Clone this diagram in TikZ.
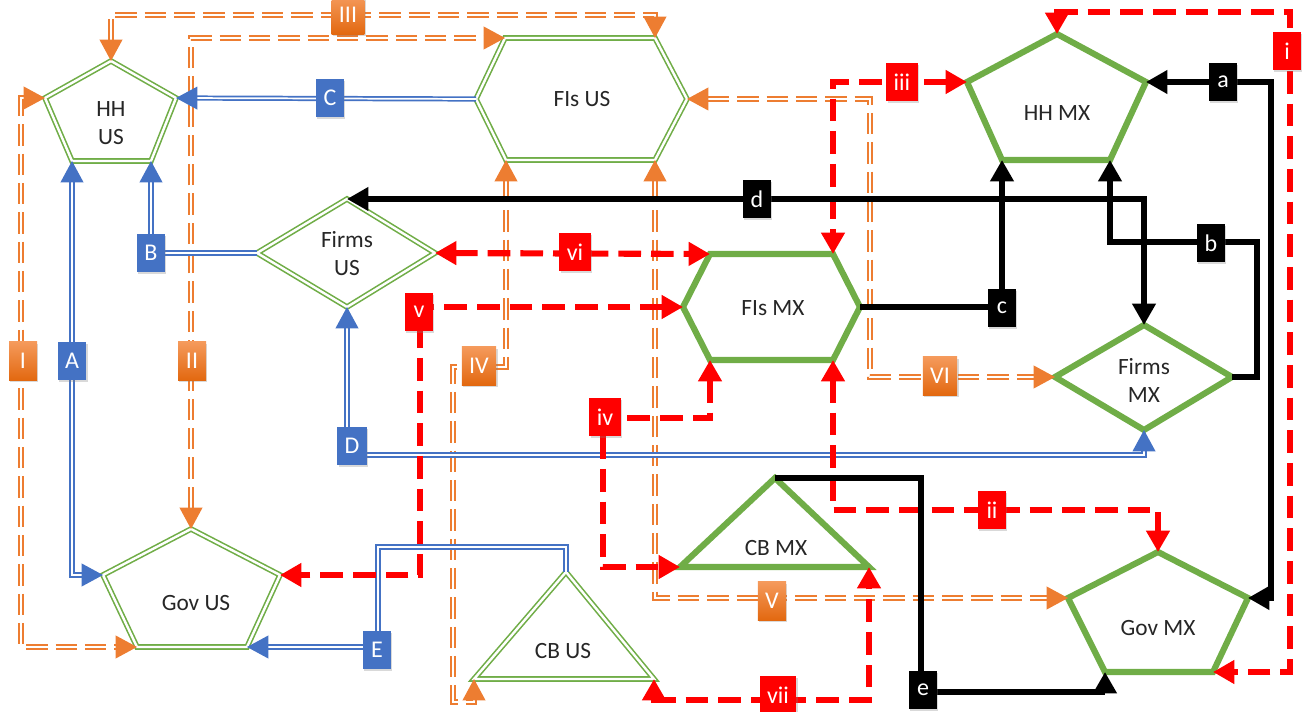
\documentclass[tikz,border=0pt]{standalone}
\usepackage{fontspec}
\setmainfont{Carlito}
\usetikzlibrary{arrows.meta,shadows,calc}
\definecolor{cgreen}{HTML}{70AD47}
\definecolor{cblue}{HTML}{4472C4}
\definecolor{corange}{HTML}{ED7D31}
\definecolor{corangeL}{HTML}{F59A5C}
\definecolor{corangeD}{HTML}{E2680F}
\definecolor{cred}{HTML}{FF0000}
\begin{document}
\begin{tikzpicture}[x=0.75pt,y=-0.75pt,
  usg/.style={draw=cgreen,line width=1.2pt,double=white,double distance=1.8pt,line join=miter},
  mxg/.style={draw=cgreen,line width=4.6pt,line join=miter},
  blu/.style={draw=cblue,line width=1.3pt,double=white,double distance=1.3pt},
  org/.style={draw=corange,line width=1.3pt,double=white,double distance=1.5pt,dash pattern=on 16pt off 6pt},
  rdl/.style={draw=cred,line width=4.6pt,dash pattern=on 17pt off 7.5pt},
  blk/.style={draw=black,line width=3.8pt},
  tri/.tip={Triangle[length=16pt,width=17pt]},
  txt/.style={align=center,font=\fontsize{17.5}{21}\selectfont,text=black!85},
  lab/.style={fill=#1,text=white,minimum width=21pt,minimum height=29pt,inner xsep=5.5pt,inner ysep=2pt,
    font=\fontsize{18}{20}\selectfont,drop shadow={opacity=0.3,shadow xshift=1pt,shadow yshift=-1.5pt}},
  lo/.style={lab=corange,top color=corangeL,bottom color=corangeD}
]
\useasboundingbox (0,0) rectangle (1303,712);
% ---------- vertex coordinates ----------
\coordinate (hu-t) at (111,61);  \coordinate (hu-l) at (45,98);   \coordinate (hu-r) at (176,98);
\coordinate (hu-bl) at (72,161); \coordinate (hu-br) at (151,161);
\coordinate (fu-l) at (476,99);  \coordinate (fu-tl) at (505,38); \coordinate (fu-tr) at (655,38);
\coordinate (fu-r) at (687,99);  \coordinate (fu-br) at (655,160);\coordinate (fu-bl) at (506,160);
\coordinate (fmu-l) at (257,253);\coordinate (fmu-t) at (347,199);\coordinate (fmu-r) at (435,253);
\coordinate (fmu-b) at (347,307);
\coordinate (gu-t) at (191,529); \coordinate (gu-l) at (103,575); \coordinate (gu-r) at (280,575);
\coordinate (gu-bl) at (137,647);\coordinate (gu-br) at (247,647);
\coordinate (cu-t) at (566,572); \coordinate (cu-bl) at (474,679);\coordinate (cu-br) at (654,679);
\coordinate (hm-t) at (1057,34); \coordinate (hm-l) at (967,82);  \coordinate (hm-r) at (1146,82);
\coordinate (hm-bl) at (1002,160);\coordinate (hm-br) at (1110,160);
\coordinate (fx-l) at (683,307); \coordinate (fx-tl) at (710,254);\coordinate (fx-tr) at (833,254);
\coordinate (fx-r) at (860,307); \coordinate (fx-br) at (833,360);\coordinate (fx-bl) at (710,360);
\coordinate (fmx-l) at (1055,377);\coordinate (fmx-t) at (1144,325);\coordinate (fmx-r) at (1232,377);
\coordinate (fmx-b) at (1144,430);
\coordinate (cx-t) at (775,478); \coordinate (cx-bl) at (680,567); \coordinate (cx-br) at (869,567);
\coordinate (gx-t) at (1158,552);\coordinate (gx-l) at (1068,598); \coordinate (gx-r) at (1248,598);
\coordinate (gx-bl) at (1105,672);\coordinate (gx-br) at (1213,672);
% ---------- shapes ----------
\draw[usg] (hu-t) -- (hu-r) -- (hu-br) -- (hu-bl) -- (hu-l) -- cycle;
\draw[usg] (fu-l) -- (fu-tl) -- (fu-tr) -- (fu-r) -- (fu-br) -- (fu-bl) -- cycle;
\draw[usg] (fmu-l) -- (fmu-t) -- (fmu-r) -- (fmu-b) -- cycle;
\draw[usg] (gu-t) -- (gu-r) -- (gu-br) -- (gu-bl) -- (gu-l) -- cycle;
\draw[usg] (cu-t) -- (cu-br) -- (cu-bl) -- cycle;
\draw[mxg] (hm-t) -- (hm-r) -- (hm-br) -- (hm-bl) -- (hm-l) -- cycle;
\draw[mxg] (fx-l) -- (fx-tl) -- (fx-tr) -- (fx-r) -- (fx-br) -- (fx-bl) -- cycle;
\draw[mxg] (fmx-l) -- (fmx-t) -- (fmx-r) -- (fmx-b) -- cycle;
\draw[mxg] (cx-t) -- (cx-br) -- (cx-bl) -- cycle;
\draw[mxg] (gx-t) -- (gx-r) -- (gx-br) -- (gx-bl) -- (gx-l) -- cycle;
\node[txt] (HHUS) at (111,123) {HH\\US};
\node[txt] (FIsUS) at (582,99) {FIs US};
\node[txt] (FirmsUS) at (347,254) {Firms\\US};
\node[txt] (GovUS) at (196,603) {Gov US};
\node[txt] (CBUS) at (563,651) {CB US};
\node[txt] (HHMX) at (1057,113) {HH MX};
\node[txt] (FIsMX) at (773,308) {FIs MX};
\node[txt] (FirmsMX) at (1144,380) {Firms\\MX};
\node[txt] (CBMX) at (776,548) {CB MX};
\node[txt] (GovMX) at (1158,628) {Gov MX};
% ---------- orange connectors ----------
\draw[org,tri-tri] (hu-l) -| (21,647) -- (gu-bl);
\draw[org,tri-tri] (gu-t) |- (fu-tl);
\draw[org,tri-tri] (hu-t) -- (111,15) -| (fu-tr);
\draw[org,tri-tri] (fu-bl) |- (453,367) |- ($(cu-bl)+(0,23)$) -- (cu-bl);
\draw[org,tri-tri] (fu-br) |- (gx-l);
\draw[org,tri-tri] (fu-r) -| (870,377) -- (fmx-l);
% ---------- blue connectors ----------
\draw[blu,tri-tri] (hu-bl) |- (gu-l);
\draw[blu,-tri] (fmu-l) -| (hu-br);
\draw[blu,-tri] (fu-l) -- (hu-r);
\draw[blu,tri-tri] (fmu-b) -- ++(0,148) -| (fmx-b);
\draw[blu,-tri] (cu-t) |- (378,547) |- (gu-br);
% ---------- red connectors ----------
\draw[rdl,tri-tri] (hm-t) |- (1290,12) |- (gx-br);
\draw[rdl,tri-tri] (fx-br) |- (1158,510) -- (gx-t);
\draw[rdl,tri-tri] (hm-l) -| (fx-tr);
\draw[rdl,tri-tri] (fx-bl) |- (603,418) |- (cx-bl);
\draw[rdl,tri-tri] (fx-l) -| (420,575) -- (gu-r);
\draw[rdl,tri-tri] (fmu-r) -- (fx-tl);
\draw[rdl,tri-tri] (cu-br) -- ++(0,21) -| (cx-br);
% ---------- black connectors ----------
\draw[blk,tri-tri] (gx-r) -| (1271,82) -- (hm-r);
\draw[blk,-tri] (fmx-r) -| (1257,242) -| (hm-br);
\draw[blk,-tri] (fx-r) -| (hm-bl);
\draw[blk,tri-tri] (fmu-t) -| (fmx-t);
\draw[blk,-tri] (cx-t) -| (921,692) -| (gx-bl);
% ---------- labels ----------
\node[lo] (lI) at (23,361) {I};
\node[lo] (lII) at (192,361) {II};
\node[lo] (lIII) at (348,15) {III};
\node[lo] (lIV) at (479,366) {IV};
\node[lo] (lV) at (772,601) {V};
\node[lo] (lVI) at (940,376) {VI};
\node[lab=cblue] (lA) at (72,361) {A};
\node[lab=cblue] (lB) at (151,253) {B};
\node[lab=cblue] (lC) at (330,98) {C};
\node[lab=cblue] (lD) at (352,446) {D};
\node[lab=cblue] (lE) at (377,650) {E};
\node[lab=cred] (li) at (1287,51) {i};
\node[lab=cred] (lii) at (992,510) {ii};
\node[lab=cred] (liii) at (902,82) {iii};
\node[lab=cred] (liv) at (605,417) {iv};
\node[lab=cred] (lv) at (419,312) {v};
\node[lab=cred] (lvi) at (575,252) {vi};
\node[lab=cred] (lvii) at (778,695) {vii};
\node[lab=black] (la) at (1223,82) {a};
\node[lab=black] (lb) at (1211,243) {b};
\node[lab=black] (lc) at (1002,308) {c};
\node[lab=black] (ld) at (757,199) {d};
\node[lab=black] (le) at (923,690) {e};
\end{tikzpicture}
\end{document}
